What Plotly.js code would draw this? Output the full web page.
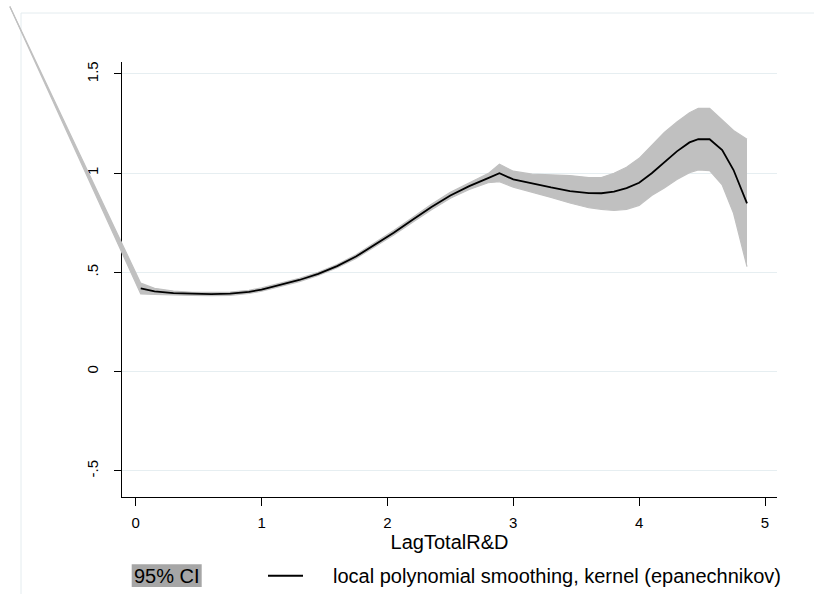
<!DOCTYPE html>
<html><head><meta charset="utf-8">
<script src="https://cdn.plot.ly/plotly-3.0.1.min.js"></script>
<style>html,body{margin:0;padding:0;background:#fff}</style>
</head><body><div id="chart" style="width:814px;height:594px"></div>
<script>
// ---- data ----
const lineX = [0.04,0.15,0.3,0.45,0.6,0.75,0.9,1.0,1.15,1.3,1.45,1.6,1.75,1.9,2.05,2.2,2.35,2.5,2.65,2.8,2.89,3.0,3.15,3.3,3.45,3.6,3.7,3.8,3.9,4.0,4.1,4.2,4.3,4.4,4.47,4.56,4.66,4.75,4.857];
const lineY = [0.42,0.405,0.396,0.392,0.391,0.393,0.402,0.414,0.438,0.462,0.493,0.532,0.58,0.64,0.70,0.765,0.83,0.888,0.935,0.975,1.0,0.969,0.948,0.928,0.91,0.9,0.899,0.907,0.925,0.952,1.0,1.055,1.11,1.155,1.171,1.171,1.117,1.016,0.848];
const ciX = [-1.0,0.04,0.15,0.3,0.45,0.6,0.75,0.9,1.0,1.15,1.3,1.45,1.6,1.75,1.9,2.05,2.2,2.35,2.5,2.65,2.8,2.89,3.0,3.15,3.3,3.45,3.6,3.7,3.8,3.9,4.0,4.1,4.2,4.3,4.4,4.47,4.56,4.66,4.75,4.857];
const ciLow = [1.84,0.392,0.39,0.386,0.384,0.383,0.385,0.394,0.406,0.43,0.454,0.485,0.524,0.571,0.63,0.689,0.753,0.816,0.874,0.918,0.952,0.957,0.93,0.905,0.878,0.85,0.826,0.818,0.812,0.818,0.838,0.888,0.925,0.968,1.003,1.016,1.013,0.941,0.798,0.529];
const ciHigh = [1.84,0.446,0.42,0.406,0.4,0.399,0.401,0.41,0.422,0.446,0.47,0.501,0.54,0.589,0.65,0.711,0.777,0.844,0.904,0.952,0.998,1.045,1.01,0.995,0.99,0.988,0.978,0.978,1.0,1.03,1.075,1.14,1.205,1.258,1.305,1.327,1.327,1.268,1.215,1.171];
const xTickVals = [0,1,2,3,4,5];
const xTickText = ['0','1','2','3','4','5'];
const yTickVals = [-0.5,0,0.5,1,1.5];
const yTickText = ['-.5','0','.5','1','1.5'];
const xTitle = 'LagTotalR&D';
const legendCI = '95% CI';
const legendLine = 'local polynomial smoothing, kernel (epanechnikov)';

// ---- layout geometry (pixels) ----
const W = 814, H = 594;
const plotL = 122, plotR = 777, plotT = 62, plotB = 497;
const x0px = 135.7, xUnit = 125.86;   // pixel of x=0, pixels per x unit
const y0px = 371.7, yUnit = 198.5;    // pixel of y=0, pixels per y unit
const toX = p => (p - x0px) / xUnit;
const toY = p => (y0px - p) / yUnit;
const px = p => p / W;
const py = p => 1 - p / H;

const FONT = '"Liberation Sans", Arial, Helvetica, sans-serif';
const GRID = '#e6eef1';
const BAND = '#c0c0c0';

const traces = [
  // empty trace so the visible axes subplot is created
  {x: [], y: [], xaxis: 'x', yaxis: 'y', mode: 'lines', type: 'scatter', showlegend: false, hoverinfo: 'skip'},
  {x: ciX, y: ciLow, xaxis: 'x2', yaxis: 'y2', mode: 'lines', type: 'scatter',
   line: {color: BAND, width: 1.2}, hoverinfo: 'skip', showlegend: false},
  {x: ciX, y: ciHigh, xaxis: 'x2', yaxis: 'y2', mode: 'lines', type: 'scatter',
   fill: 'tonexty', fillcolor: BAND, line: {color: BAND, width: 1.2},
   hoverinfo: 'skip', showlegend: false},
  {x: lineX, y: lineY, xaxis: 'x2', yaxis: 'y2', mode: 'lines', type: 'scatter',
   line: {color: '#000000', width: 1.8}, showlegend: false}
];

const layout = {
  width: W, height: H,
  margin: {l: 0, r: 0, t: 0, b: 0, pad: 0},
  paper_bgcolor: '#ffffff', plot_bgcolor: 'rgba(0,0,0,0)',
  font: {family: FONT, color: '#000000', size: 15},
  showlegend: false,
  xaxis: {
    domain: [px(plotL), px(plotR)], range: [toX(plotL), toX(plotR)],
    anchor: 'y', showline: true, linecolor: '#000', linewidth: 1,
    ticks: 'outside', ticklen: 8, tickwidth: 1, tickcolor: '#000',
    tickvals: xTickVals, ticktext: xTickText, tickfont: {size: 15, family: FONT},
    ticklabelstandoff: 4, automargin: false,
    showgrid: false, zeroline: false, fixedrange: true,
    title: {text: xTitle, font: {size: 20, family: FONT}, standoff: 3}
  },
  yaxis: {
    domain: [py(plotB), py(plotT)], range: [toY(plotB), toY(plotT)],
    anchor: 'x', showline: true, linecolor: '#000', linewidth: 1,
    ticks: 'outside', ticklen: 7, tickwidth: 1, tickcolor: '#000',
    tickvals: yTickVals, ticktext: yTickText, tickangle: -90, automargin: false,
    tickfont: {size: 15, family: FONT}, ticklabelstandoff: 10,
    showgrid: true, gridcolor: GRID, gridwidth: 1, zeroline: false, fixedrange: true
  },
  xaxis2: {domain: [0, 1], range: [toX(0), toX(W)], anchor: 'y2', visible: false, fixedrange: true},
  yaxis2: {domain: [0, 1], range: [toY(H), toY(0)], anchor: 'x2', visible: false, fixedrange: true},
  shapes: [
    {type: 'rect', xref: 'paper', yref: 'paper', x0: px(21), x1: px(840), y0: py(13), y1: py(620),
     line: {color: '#e4ecef', width: 1}, fillcolor: 'rgba(0,0,0,0)', layer: 'below'},
    {type: 'rect', xref: 'paper', yref: 'paper', x0: px(131.7), x1: px(201.7), y0: py(564.3), y1: py(587),
     line: {width: 0}, fillcolor: '#a6a6a6', layer: 'above'},
    {type: 'line', xref: 'paper', yref: 'paper', x0: px(268), x1: px(303), y0: py(575.7), y1: py(575.7),
     line: {color: '#000', width: 2}}
  ],
  annotations: [
    {text: legendCI, xref: 'paper', yref: 'paper', x: px(132), y: py(576), xanchor: 'left', yanchor: 'middle',
     showarrow: false, font: {size: 20, family: FONT, color: '#000'}},
    {text: legendLine, xref: 'paper', yref: 'paper', x: px(330.5), y: py(576), xanchor: 'left', yanchor: 'middle',
     showarrow: false, font: {size: 20, family: FONT, color: '#000'}}
  ]
};

Plotly.newPlot('chart', traces, layout, {staticPlot: true, displayModeBar: false});
</script>
</body></html>
